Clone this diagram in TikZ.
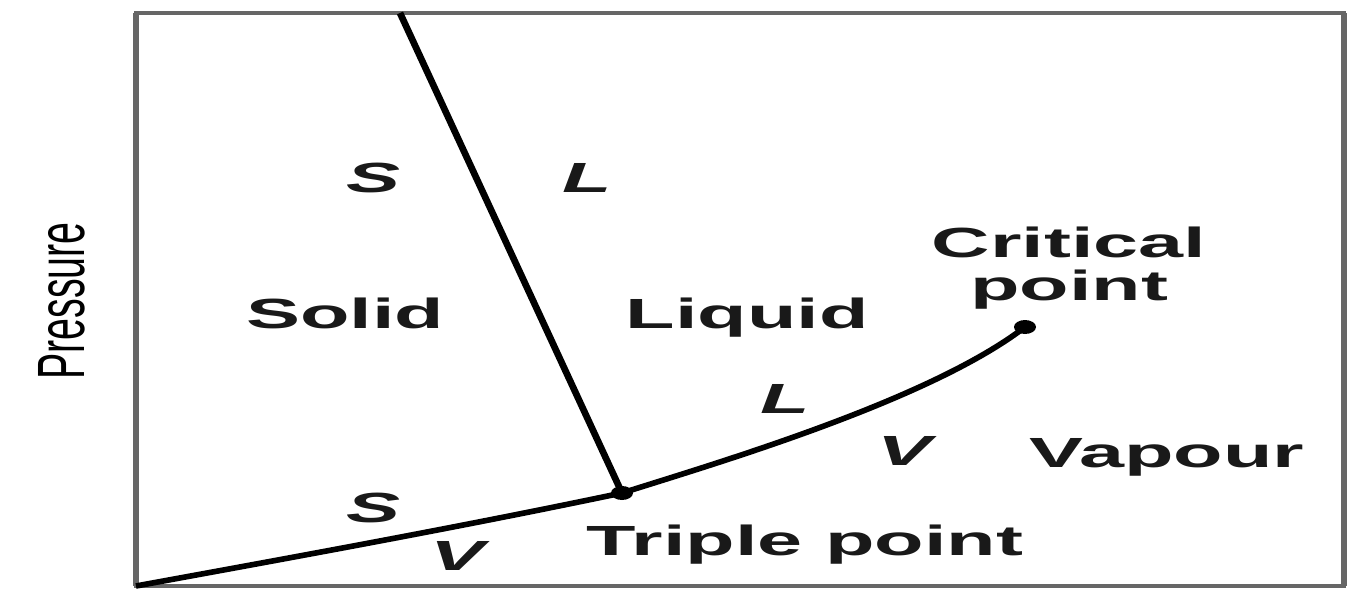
\documentclass[tikz,border=0pt]{standalone}
\usepackage{fontspec}
\setmainfont{Liberation Sans}
\usetikzlibrary{calc, positioning}

\begin{document}
\begin{tikzpicture}[x=0.1mm,y=-0.1mm,
  phase/.style={font=\bfseries\fontsize{12}{12.2}\selectfont, xscale=1.92, inner sep=0pt, text=black!90},
  tag/.style={font=\bfseries\itshape\fontsize{12}{12}\selectfont, xscale=1.92, inner sep=0pt, text=black!90},
  curve/.style={line width=1.6pt, black},
  frame/.style={black!60}]
\useasboundingbox (0,0) rectangle (1357,591);
\coordinate (BL) at (136,586);
\coordinate (TR) at (1344,13);
\coordinate (M) at (400,13);
\coordinate (T) at (622,493);
\coordinate (C) at (1025,327);

% frame
\draw[frame, line width=1.1pt] (BL) rectangle (TR);
\draw[frame, line width=1.8pt] (BL) -- (BL |- TR);
\draw[frame, line width=1.8pt] (TR) -- (TR |- BL);

% phase boundaries
\draw[curve, line width=1.9pt] (M) -- (T);
\draw[curve] (BL) .. controls (300,556) and (460,527) .. (T);
\draw[curve] (T) .. controls (720,462) and (930,400) .. (C);
\fill (T) ellipse [x radius=11, y radius=7];
\fill (C) ellipse [x radius=11, y radius=7];

% regions
\node[phase, anchor=base] (solid) at (345,328) {Solid};
\node[phase, anchor=base] (liquid) at (747,328) {Liquid};
\node[phase, anchor=base] (vapour) at (1167,467) {Vapour};
\node[phase, anchor=base] (triple) at (805,555) {Triple point};
\node[phase, align=center, anchor=base] (crit) at (1069,300) {Critical\\point};
\node[font=\fontsize{11.2}{12}\selectfont, xscale=1.7, rotate=90, inner sep=0pt] (press) at (62,301) {Pressure};

% labels beside the lines
\node[tag] (sa) at (374,178) {S};
\node[tag] (la) at (587,178) {L};
\node[tag] (sb) at (374,508) {S};
\node[tag] (vb) at (458,556) {V};
\node[tag] (lc) at (785,399) {L};
\node[tag] (vc) at (905,451) {V};

\end{tikzpicture}
\end{document}
